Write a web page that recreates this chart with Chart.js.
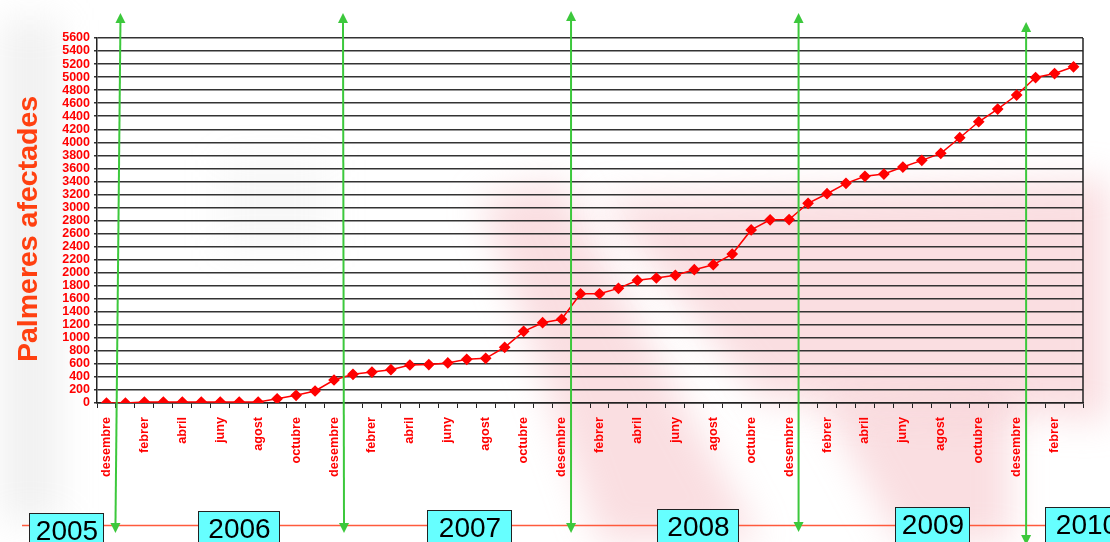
<!DOCTYPE html>
<html>
<head>
<meta charset="utf-8">
<script src="https://cdn.jsdelivr.net/npm/chart.js@4/dist/chart.umd.min.js"></script>
<style>
  html, body { margin: 0; padding: 0; background: #fff; }
  #wrap { width: 1110px; height: 542px; position: relative; }
</style>
</head>
<body>
<div id="wrap"><canvas id="myChart"></canvas></div>
<script>
// months from desembre 2005 to març 2010
const monthNames = ["gener", "febrer", "març", "abril", "maig", "juny",
  "juliol", "agost", "setembre", "octubre", "novembre", "desembre"];
const months = ["desembre"];
for (let y = 0; y < 4; y++) months.push(...monthNames);
months.push("gener", "febrer", "març");

const palmeres = [
  0, 0, 15, 15, 15, 15, 15, 15, 15, 65, 118, 184,
  353, 440, 475, 511, 583, 590, 614, 670, 686, 855, 1100, 1232,
  1285, 1676, 1676, 1759, 1882, 1918, 1959, 2045, 2122, 2285, 2655, 2810,
  2815, 3064, 3211, 3370, 3478, 3513, 3620, 3723, 3830, 4070, 4315, 4510,
  4725, 4993, 5055, 5158
];

const years = ["2005", "2006", "2007", "2008", "2009", "2010"];
// index of the last month (desembre) before each year change
const yearBreaks = [0, 12, 24, 36, 48];

const yTitle = "Palmeres afectades";

const FONT = "'Liberation Sans', Arial, sans-serif";

// background watermark, year boxes and green arrows
const decor = {
  id: "decor",
  beforeDraw(chart) {
    const { ctx, width, height } = chart;
    ctx.save();
    ctx.fillStyle = "#fff";
    ctx.fillRect(0, 0, width, height);
    ctx.filter = "blur(18px)";
    ctx.fillStyle = "rgba(240,160,170,0.35)";
    ctx.beginPath();
    ctx.moveTo(480, 200); ctx.lineTo(560, 180); ctx.lineTo(760, 542); ctx.lineTo(600, 542);
    ctx.closePath(); ctx.fill();
    ctx.beginPath();
    ctx.moveTo(600, 200); ctx.lineTo(1110, 180); ctx.lineTo(1110, 420); ctx.lineTo(760, 400);
    ctx.closePath(); ctx.fill();
    ctx.beginPath();
    ctx.moveTo(820, 400); ctx.lineTo(1010, 400); ctx.lineTo(1010, 542); ctx.lineTo(900, 542);
    ctx.closePath(); ctx.fill();
    ctx.fillStyle = "rgba(200,200,200,0.12)";
    ctx.fillRect(220, 160, 110, 90);
    ctx.fillStyle = "rgba(200,200,200,0.25)";
    ctx.fillRect(0, 20, 60, 500);
    ctx.restore();
  },
  afterDraw(chart) {
    const { ctx, chartArea } = chart;
    const x = chart.scales.x;
    ctx.save();
    // right border
    ctx.strokeStyle = "#222";
    ctx.lineWidth = 1.5;
    ctx.beginPath();
    ctx.moveTo(chartArea.right, chartArea.top);
    ctx.lineTo(chartArea.right, chartArea.bottom);
    ctx.stroke();

    // axis title
    ctx.save();
    ctx.translate(29, 229);
    ctx.rotate(-Math.PI / 2);
    ctx.font = "bold 28.5px " + FONT;
    ctx.fillStyle = "#ff4010";
    ctx.textAlign = "center";
    ctx.textBaseline = "middle";
    ctx.fillText(yTitle, 0, 0);
    ctx.restore();

    // orange timeline
    ctx.strokeStyle = "#ff5a3c";
    ctx.lineWidth = 1.5;
    ctx.beginPath();
    ctx.moveTo(22, 525.5);
    ctx.lineTo(1110, 525.5);
    ctx.stroke();

    // year boxes
    const boxes = [[29, 513, 74], [198, 511, 81], [427, 510, 84], [657, 509, 81], [895, 507, 74], [1045, 507, 82]];
    ctx.font = "28px " + FONT;
    ctx.textAlign = "center";
    ctx.textBaseline = "alphabetic";
    years.forEach((yr, i) => {
      const [bx, by, bw] = boxes[i];
      ctx.fillStyle = "#66ffff";
      ctx.fillRect(bx, by, bw, 40);
      ctx.strokeStyle = "#222";
      ctx.lineWidth = 1;
      ctx.strokeRect(bx + 0.5, by + 0.5, bw, 40);
      ctx.fillStyle = "#000";
      ctx.fillText(yr, bx + bw / 2 + 1, by + 27);
    });

    // green arrows at year boundaries
    const tops = [13, 13, 11, 13, 22];
    const bottoms = [533, 533, 533, 532, 545];
    const slant = [5, -1, 0, 0, 0];
    const shift = [2, 0, 0, 0, 0];
    ctx.strokeStyle = "#3cc83c";
    ctx.fillStyle = "#3cc83c";
    ctx.lineWidth = 2;
    yearBreaks.forEach((b, i) => {
      const xm = (x.getPixelForValue(b) + x.getPixelForValue(b + 1)) / 2 + shift[i];
      const xt = xm + slant[i] / 2, xb = xm - slant[i] / 2;
      ctx.beginPath();
      ctx.moveTo(xt, tops[i] + 8);
      ctx.lineTo(xb, bottoms[i] - 8);
      ctx.stroke();
      ctx.beginPath();
      ctx.moveTo(xt, tops[i]); ctx.lineTo(xt - 5, tops[i] + 10); ctx.lineTo(xt + 5, tops[i] + 10);
      ctx.closePath(); ctx.fill();
      ctx.beginPath();
      ctx.moveTo(xb, bottoms[i]); ctx.lineTo(xb - 5, bottoms[i] - 10); ctx.lineTo(xb + 5, bottoms[i] - 10);
      ctx.closePath(); ctx.fill();
    });
    ctx.restore();
  }
};

new Chart(document.getElementById("myChart"), {
  type: "line",
  data: {
    labels: months,
    datasets: [{
      data: palmeres,
      borderColor: "#ff0000",
      backgroundColor: "#ff0000",
      borderWidth: 1.5,
      pointStyle: "rectRot",
      pointRadius: 4.8,
      pointHoverRadius: 4.8,
      tension: 0
    }]
  },
  options: {
    responsive: true,
    maintainAspectRatio: false,
    animation: false,
    layout: { padding: { top: 38, right: 27, left: 0, bottom: 0 } },
    plugins: { legend: { display: false }, tooltip: { enabled: false } },
    scales: {
      x: {
        type: "category",
        offset: true,
        afterFit(s) { s.height = 139; },
        grid: { display: true, offset: true, drawOnChartArea: false, drawTicks: true, tickLength: 5, color: "#222" },
        border: { color: "#222", width: 1.5 },
        ticks: {
          autoSkip: false,
          minRotation: 90,
          maxRotation: 90,
          padding: 9,
          color: "#ff0000",
          font: { family: FONT, size: 12.7, weight: "bold" },
          callback(v, i) { return i % 2 === 0 ? months[i] : ""; }
        }
      },
      y: {
        min: 0,
        max: 5600,
        afterFit(s) { s.width = 97; },
        grid: { color: "#333", lineWidth: 1.5, tickLength: 3 },
        border: { color: "#222", width: 1.5 },
        ticks: {
          stepSize: 200,
          autoSkip: false,
          padding: 4,
          color: "#ff0000",
          font: { family: FONT, size: 12.5, weight: "bold" },
          callback(v) { return String(v); }
        }
      }
    }
  },
  plugins: [decor]
});
</script>
</body>
</html>
